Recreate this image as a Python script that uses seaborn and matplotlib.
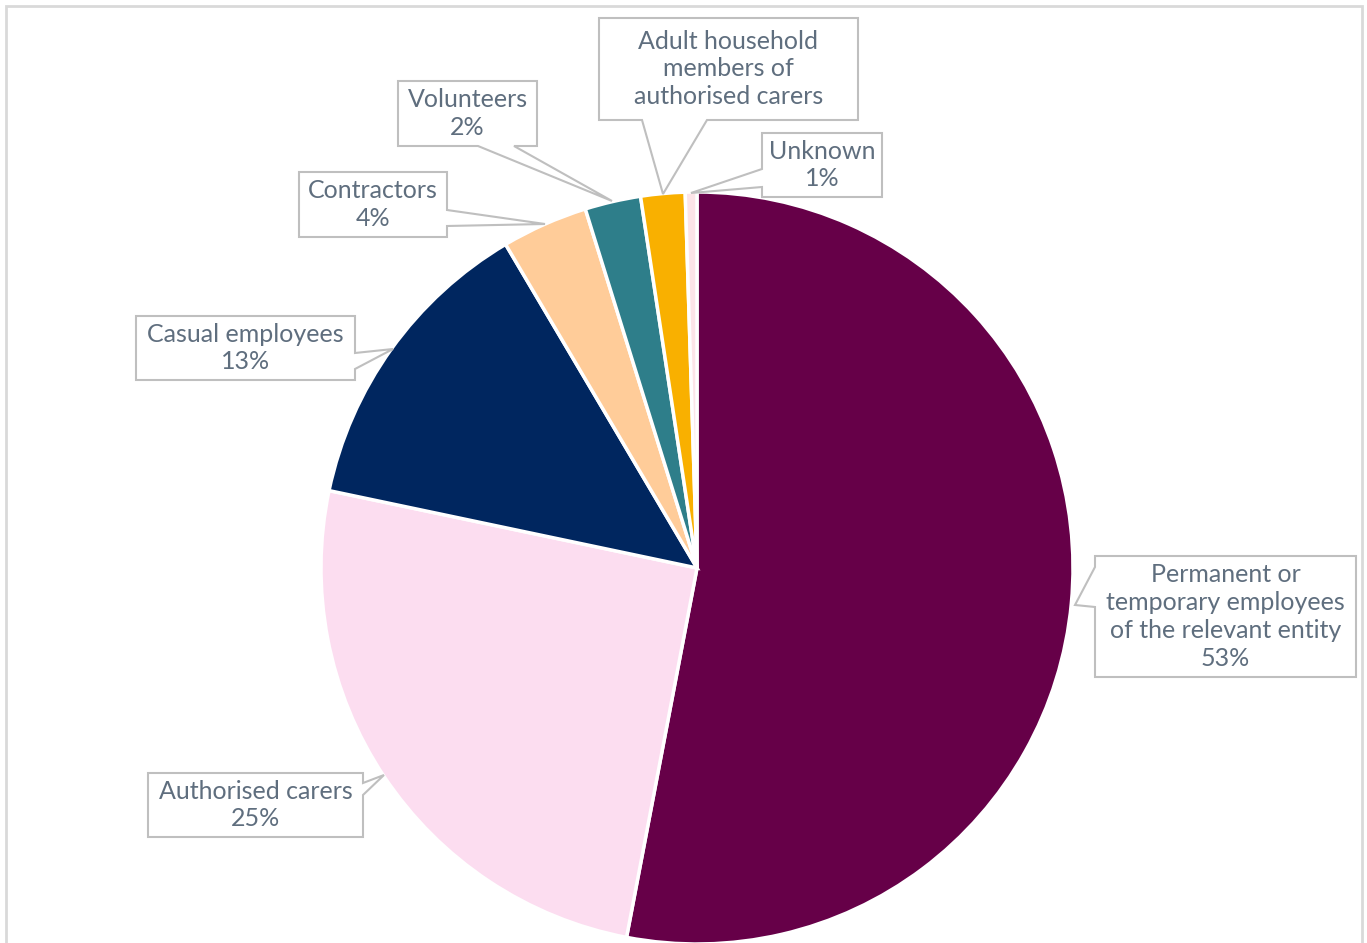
import matplotlib
matplotlib.use("Agg")
import matplotlib.pyplot as plt
import seaborn as sns
from matplotlib.patches import Polygon

sns.set_theme(style="white")
plt.rcParams['font.family'] = ['Lato', 'DejaVu Sans']

categories = ["Permanent or\ntemporary employees\nof the relevant entity",
              "Authorised carers", "Casual employees", "Contractors",
              "Volunteers", "Adult household\nmembers of\nauthorised carers", "Unknown"]
values = [53.0, 25.3, 13.2, 3.7, 2.4, 1.9, 0.5]
pct_labels = ["53%", "25%", "13%", "4%", "2%", "", "1%"]
colors = ["#660048", "#FCDDF0", "#00265F", "#FFCC99", "#2E7E8A", "#F9B000", "#FCE4E8"]

W, H = 1367, 943
fig = plt.figure(figsize=(W / 100, H / 100), dpi=100)
ax = fig.add_axes([0, 0, 1, 1])

def Y(y):
    return H - y

ax.pie(values, colors=colors, startangle=90, counterclock=False,
       center=(697, Y(568)), radius=376,
       wedgeprops=dict(edgecolor="white", linewidth=2.5))
ax.set_xlim(0, W)
ax.set_ylim(0, H)
ax.set_aspect("equal")
ax.axis("off")

# outer frame
frame_col = "#D9D9D9"
ax.plot([6, 6, 1362, 1362], [Y(950), Y(6), Y(6), Y(950)], color=frame_col, lw=2,
        clip_on=False, solid_joinstyle="miter")

# callout layout: box (x0, y0, x1, y1), side, base (a, b), tip
callouts = [
    ((1095, 556, 1356, 677), "left", (567, 607), (1075, 605)),
    ((148, 773, 363, 837), "right", (783, 795), (384, 775)),
    ((136, 316, 355, 380), "right", (353, 369), (393, 349)),
    ((299, 172, 447, 237), "right", (210, 226), (545, 224)),
    ((398, 81, 537, 146), "bottom", (478, 514), (612, 201)),
    ((599, 18, 858, 120), "bottom", (642, 707), (663, 194)),
    ((762, 133, 882, 197), "left", (169, 187), (691, 193)),
]

text_col = "#5F6E7E"
edge_col = "#BFBFBF"
for (box, side, base, tip), cat, pct in zip(callouts, categories, pct_labels):
    x0, y0, x1, y1 = box
    a, b = base
    if side == "left":
        pts = [(x0, y0), (x1, y0), (x1, y1), (x0, y1), (x0, b), tip, (x0, a)]
    elif side == "right":
        pts = [(x0, y0), (x1, y0), (x1, a), tip, (x1, b), (x1, y1), (x0, y1)]
    else:  # bottom
        pts = [(x0, y0), (x1, y0), (x1, y1), (b, y1), tip, (a, y1), (x0, y1)]
    poly = Polygon([(px, Y(py)) for px, py in pts], closed=True,
                   facecolor="white", edgecolor=edge_col, lw=1.5, zorder=5)
    ax.add_patch(poly)
    label = cat + ("\n" + pct if pct else "")
    ax.text((x0 + x1) / 2, Y((y0 + y1) / 2), label, ha="center", va="center",
            fontsize=18, color=text_col, linespacing=1.25, zorder=6)

fig.savefig("out.png", dpi=100)
